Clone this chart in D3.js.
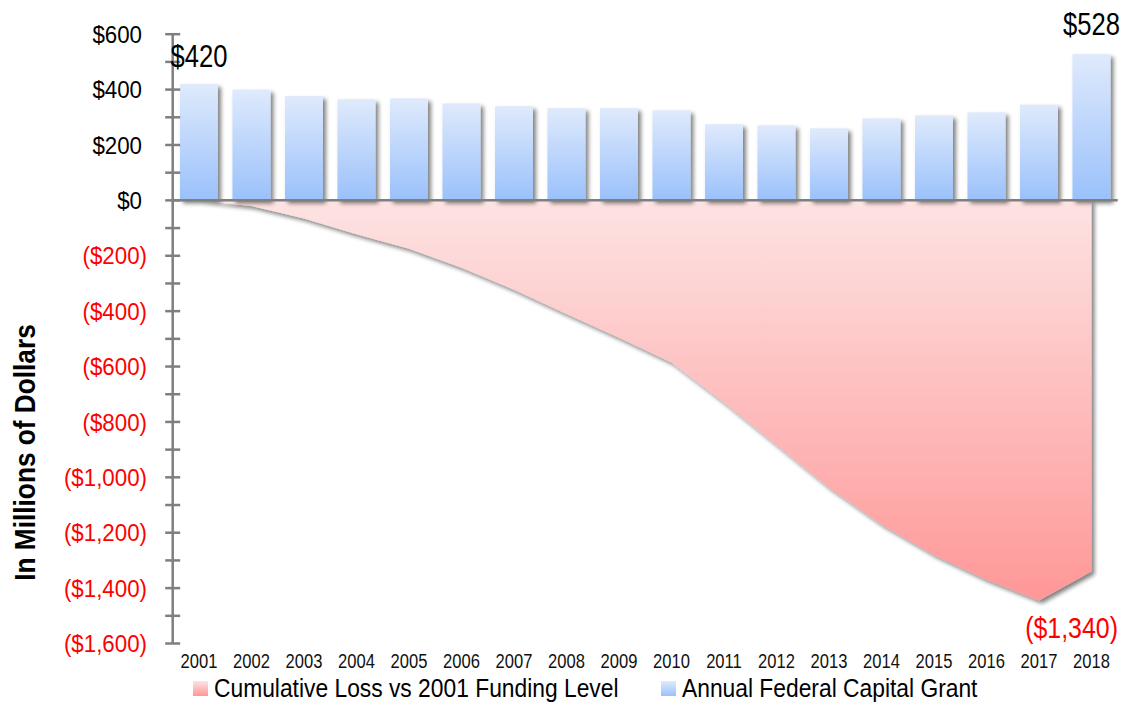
<!DOCTYPE html>
<html>
<head>
<meta charset="utf-8">
<script src="https://cdn.jsdelivr.net/npm/d3@7"></script>
<style>
  html, body { margin: 0; padding: 0; background: #fff; }
  svg { display: block; }
  text { font-family: "Liberation Sans", Arial, sans-serif; }
</style>
</head>
<body>
<svg id="chart" width="1132" height="702"></svg>
<script>
// Fiscal years on the category axis
const years = ["2001","2002","2003","2004","2005","2006","2007","2008","2009",
               "2010","2011","2012","2013","2014","2015","2016","2017","2018"];

// Annual federal capital grant, $ millions
const annualGrant = [420, 400, 377, 365, 368, 350, 340, 333, 333,
                     325, 275, 271, 260, 296, 307, 318, 346, 528];

// Cumulative loss against the 2001 funding level, $ millions
const cumulativeLoss = [0, -20, -65, -122, -175, -243, -323, -410, -496,
                        -585, -730, -883, -1038, -1170, -1280, -1370, -1445, -1340];

// Value-axis ticks
const majorTicks = [600, 400, 200, 0, -200, -400, -600, -800, -1000, -1200, -1400, -1600];
const minorTicks = [500, 300, 100, -100, -300, -500, -700, -900, -1100, -1300, -1500];

const legendItems = ["Cumulative Loss vs 2001 Funding Level", "Annual Federal Capital Grant"];

const svg = d3.select("#chart");

const plotLeft = 172.7, plotRight = 1117.7;
const x = d3.scaleBand().domain(years).range([plotLeft, plotRight]).paddingInner(0.276).paddingOuter(0.138);
const xc = d => x(d) + x.bandwidth() / 2;
const y = d3.scaleLinear().domain([-1600, 600]).range([643.5, 34.2]);

const fmt = v => v < 0 ? "($" + d3.format(",")(-v) + ")" : "$" + d3.format(",")(v);

// Condensed text: a horizontally squeezed sans face
function label(parent, tx, ty, str, opts) {
  const o = Object.assign({ size: 24, sx: 0.85, anchor: "start", fill: "#000", weight: "normal", dy: 0 }, opts);
  return parent.append("text")
    .attr("transform", `translate(${tx},${ty}) scale(${o.sx},1)`)
    .attr("dy", o.dy)
    .attr("text-anchor", o.anchor)
    .attr("font-size", o.size)
    .attr("font-weight", o.weight)
    .attr("fill", o.fill)
    .text(str);
}

// Gradients and soft shadow
const defs = svg.append("defs");
const gBar = defs.append("linearGradient").attr("id", "barFill").attr("x1", 0).attr("y1", 0).attr("x2", 0).attr("y2", 1);
gBar.append("stop").attr("offset", "0%").attr("stop-color", "#dfeafc");
gBar.append("stop").attr("offset", "100%").attr("stop-color", "#9ac1fb");

const gArea = defs.append("linearGradient").attr("id", "areaFill").attr("x1", 0).attr("y1", 0).attr("x2", 0).attr("y2", 1);
gArea.append("stop").attr("offset", "0%").attr("stop-color", "#fde3e3");
gArea.append("stop").attr("offset", "100%").attr("stop-color", "#ff9797");

const shadow = defs.append("filter").attr("id", "shadow")
  .attr("x", "-10%").attr("y", "-10%").attr("width", "130%").attr("height", "130%");
shadow.append("feGaussianBlur").attr("in", "SourceAlpha").attr("stdDeviation", 2.2).attr("result", "blur");
shadow.append("feOffset").attr("in", "blur").attr("dx", 2.5).attr("dy", 2.5).attr("result", "off");
shadow.append("feComponentTransfer").attr("in", "off").attr("result", "shade")
  .append("feFuncA").attr("type", "linear").attr("slope", 0.5);
const merge = shadow.append("feMerge");
merge.append("feMergeNode").attr("in", "shade");
merge.append("feMergeNode").attr("in", "SourceGraphic");

// Cumulative loss area
const area = d3.area()
  .x((d, i) => xc(years[i]))
  .y0(y(0))
  .y1(d => y(d));
svg.append("path")
  .datum(cumulativeLoss)
  .attr("d", area)
  .attr("fill", "url(#areaFill)")
  .attr("filter", "url(#shadow)");

// Annual grant bars
svg.append("g").selectAll("rect")
  .data(annualGrant)
  .join("rect")
  .attr("x", (d, i) => x(years[i]))
  .attr("y", d => y(d))
  .attr("width", x.bandwidth())
  .attr("height", d => y(0) - y(d))
  .attr("fill", "url(#barFill)")
  .attr("filter", "url(#shadow)");

// Category axis line along zero
svg.append("line")
  .attr("x1", plotLeft).attr("x2", plotRight)
  .attr("y1", y(0)).attr("y2", y(0))
  .attr("stroke", "#7f7f7f").attr("stroke-width", 2.5);

// Value axis with crossing ticks
const yAxis = svg.append("g");
yAxis.append("line")
  .attr("x1", plotLeft).attr("x2", plotLeft)
  .attr("y1", y(600)).attr("y2", y(-1600))
  .attr("stroke", "#7f7f7f").attr("stroke-width", 2.5);
yAxis.selectAll("line.tick")
  .data(majorTicks.concat(minorTicks))
  .join("line")
  .attr("class", "tick")
  .attr("x1", plotLeft - 7.5).attr("x2", plotLeft + 7.5)
  .attr("y1", d => y(d)).attr("y2", d => y(d))
  .attr("stroke", "#7f7f7f").attr("stroke-width", 2.5);
// positive values leave room for the closing parenthesis of the negatives
majorTicks.forEach(v => {
  label(yAxis, v < 0 ? 147 : 142, y(v), fmt(v), { size: 24, sx: 0.93, anchor: "end", dy: "0.36em", fill: v < 0 ? "#ff0000" : "#000" });
});

// Year labels
const xLabels = svg.append("g");
years.forEach(yr => label(xLabels, xc(yr), 668, yr, { size: 19.5, sx: 0.85, anchor: "middle", fill: "#111" }));

// Value callouts
label(svg, xc(years[0]), 66.5, fmt(annualGrant[0]), { size: 30.5, sx: 0.84, anchor: "middle" });
label(svg, xc(years[years.length - 1]), 35, fmt(annualGrant[annualGrant.length - 1]), { size: 30.5, sx: 0.84, anchor: "middle" });
label(svg, 1118, 638, fmt(cumulativeLoss[cumulativeLoss.length - 1]), { size: 29, sx: 0.86, anchor: "end", fill: "#ff0000" });

// Value-axis title
svg.append("text")
  .attr("transform", "translate(35,452.5) rotate(-90) scale(0.905,1)")
  .attr("text-anchor", "middle")
  .attr("font-size", 29)
  .attr("font-weight", "bold")
  .attr("fill", "#000")
  .text("In Millions of Dollars");

// Legend
const legend = svg.append("g");
const legX = [193, 661];
const legFill = ["url(#areaFill)", "url(#barFill)"];
legendItems.forEach((name, i) => {
  legend.append("rect")
    .attr("x", legX[i]).attr("y", 681)
    .attr("width", 15).attr("height", 15)
    .attr("fill", legFill[i]);
  label(legend, legX[i] + 21, 697, name, { size: 25.5, sx: 0.895 });
});
</script>
</body>
</html>
